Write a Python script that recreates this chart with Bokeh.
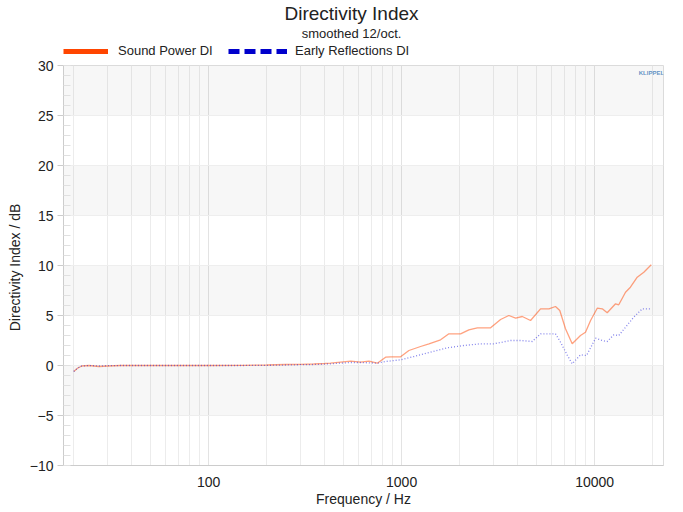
from bokeh.plotting import figure
from bokeh.layouts import column
from bokeh.models import (Label, Legend, LegendItem, FixedTicker,
                          ColumnDataSource, Range1d)
from bokeh.embed import file_html
from bokeh.resources import INLINE

# ---- data ----
sp_freq = [20, 21, 22, 24, 27, 30, 35, 50, 100, 150, 200, 250, 300, 350, 400, 428,
           483, 545, 613, 677, 748, 826, 877, 988, 1091, 1254, 1386, 1592, 1758, 2021,
           2231, 2467, 2891, 3257, 3593, 3898, 4218, 4656, 5246, 5800, 6270, 6600,
           7066, 7654, 8450, 8970, 9530, 10320, 10960, 11620, 12840, 13340, 14460,
           15330, 16630, 17990, 19660]
sp_di = [-0.6, -0.25, -0.05, 0.0, -0.1, -0.05, 0.0, 0.0, 0.0, 0.02, 0.05, 0.1, 0.12,
         0.15, 0.2, 0.23, 0.33, 0.43, 0.33, 0.43, 0.23, 0.83, 0.87, 0.87, 1.5, 1.9, 2.17,
         2.57, 3.17, 3.17, 3.57, 3.77, 3.77, 4.6, 5.0, 4.73, 4.9, 4.5, 5.67, 5.67, 5.9,
         5.5, 3.67, 2.17, 3.0, 3.33, 4.5, 5.73, 5.67, 5.27, 6.17, 6.07, 7.33, 7.83,
         8.83, 9.33, 10.07]

er_freq = [20, 21, 22, 24, 27, 30, 35, 50, 100, 150, 200, 250, 300, 350, 400, 428,
           545, 613, 748, 826, 988, 1159, 1413, 1724, 2103, 2565, 3010, 3257, 3669,
           4140, 4750, 5246, 6270, 6660, 7230, 7654, 8450, 9080, 10120, 10960, 11620,
           12580, 13340, 14460, 15950, 17650, 19660]
er_di = [-0.6, -0.25, -0.05, 0.0, -0.05, -0.02, 0.0, 0.0, 0.0, 0.0, 0.02, 0.05, 0.08,
         0.1, 0.14, 0.17, 0.3, 0.3, 0.23, 0.4, 0.57, 0.9, 1.33, 1.77, 2.0, 2.17, 2.17,
         2.3, 2.5, 2.5, 2.4, 3.17, 3.17, 2.33, 1.0, 0.17, 1.07, 1.0, 2.73, 2.5, 2.4,
         3.07, 3.0, 3.83, 4.83, 5.67, 5.67]

series_names = ["Sound Power DI", "Early Reflections DI"]
title_text = "Directivity Index"
subtitle_text = "smoothed 12/oct."
logo_text = "KLIPPEL"

y_ticks = [-10, -5, 0, 5, 10, 15, 20, 25, 30]
x_label_ticks = [100, 1000, 10000]
x_minor_ticks = [20, 30, 40, 50, 60, 70, 80, 90, 200, 300, 400, 500, 600, 700, 800,
                 900, 2000, 3000, 4000, 5000, 6000, 7000, 8000, 9000, 20000]

FONT = "Liberation Sans"
TXT = "#222222"
NAN = float("nan")

# ---------------- header (titles + legend) ----------------
hdr = figure(frame_width=600, frame_height=58, x_range=Range1d(0, 600),
             y_range=Range1d(0, 58), output_backend="svg", toolbar_location=None,
             min_border_left=63, min_border_right=12, min_border_top=0,
             min_border_bottom=0)
hdr.axis.visible = False
hdr.grid.visible = False
hdr.outline_line_color = None

hdr.add_layout(Label(x=288, y=45, text=title_text, text_align="center",
                     text_baseline="middle", text_font=FONT, text_font_size="19px",
                     text_color=TXT))
hdr.add_layout(Label(x=288, y=25, text=subtitle_text, text_align="center",
                     text_baseline="middle", text_font=FONT, text_font_size="13px",
                     text_color=TXT))

leg_sp = hdr.line([NAN], [NAN], line_color="#ff4500", line_width=5)
leg_er = hdr.line([NAN], [NAN], line_color="#0000cc", line_width=5, line_dash="11 5")
leg_common = dict(orientation="horizontal", glyph_height=12, label_height=14,
                  label_text_font=FONT, label_text_font_size="13px",
                  label_text_color=TXT, label_text_baseline="middle",
                  border_line_color=None, background_fill_alpha=0,
                  padding=0, margin=0, spacing=0)
legend1 = Legend(items=[LegendItem(label=series_names[0], renderers=[leg_sp])],
                 location=(0, 0), glyph_width=45, label_standoff=10, **leg_common)
legend2 = Legend(items=[LegendItem(label=series_names[1], renderers=[leg_er])],
                 location=(165, 0), glyph_width=59, label_standoff=8, **leg_common)
hdr.add_layout(legend1, "center")
hdr.add_layout(legend2, "center")

# ---------------- main chart ----------------
p = figure(frame_width=600, frame_height=400, x_axis_type="log",
           x_range=Range1d(17.7, 22750), y_range=Range1d(-10, 30),
           output_backend="svg", toolbar_location=None,
           min_border_left=63, min_border_right=12, min_border_top=7,
           min_border_bottom=30)
p.outline_line_color = "#dddddd"

# grids (an extra tick below the range shifts the band phase)
p.xgrid.ticker = FixedTicker(ticks=x_label_ticks, minor_ticks=x_minor_ticks)
p.xgrid.grid_line_color = "#e3e3e3"
p.xgrid.minor_grid_line_color = "#ececec"
p.ygrid.ticker = FixedTicker(ticks=[y_ticks[0] - 5] + y_ticks)
p.ygrid.grid_line_color = "#eeeeee"
p.ygrid.band_fill_color = "#000000"
p.ygrid.band_fill_alpha = 0.03

# axes
p.xaxis.ticker = FixedTicker(ticks=x_label_ticks)
p.xaxis.major_label_overrides = {100: "100", 1000: "1000", 10000: "10000"}
p.xaxis.major_tick_out = 0
p.xaxis.major_tick_in = 0
p.xaxis.minor_tick_out = 0
p.xaxis.axis_line_color = "#cccccc"
p.xaxis.axis_label = "Frequency / Hz"
p.xaxis.major_label_standoff = 11

p.yaxis.ticker = FixedTicker(ticks=y_ticks, minor_ticks=list(range(-10, 31)))
p.yaxis.major_tick_out = 6
p.yaxis.major_tick_in = 0
p.yaxis.minor_tick_out = 0
p.yaxis.minor_tick_in = 7
p.yaxis.major_tick_line_color = "#cccccc"
p.yaxis.minor_tick_line_color = "#e0e0e0"
p.yaxis.axis_line_color = "#cccccc"
p.yaxis.axis_label = "Directivity Index  / dB"
p.yaxis.major_label_standoff = 4

for ax in (p.xaxis, p.yaxis):
    ax.major_label_text_font = FONT
    ax.major_label_text_font_size = "14px"
    ax.major_label_text_color = TXT
    ax.axis_label_text_font = FONT
    ax.axis_label_text_font_size = "14px"
    ax.axis_label_text_font_style = "normal"
    ax.axis_label_text_color = TXT
p.xaxis.axis_label_standoff = 1
p.yaxis.axis_label_standoff = 4

# data lines
sp_src = ColumnDataSource(dict(f=sp_freq, d=sp_di))
er_src = ColumnDataSource(dict(f=er_freq, d=er_di))
p.line("f", "d", source=sp_src, line_color="#ff4500", line_alpha=0.5, line_width=1.3)
p.line("f", "d", source=er_src, line_color="#2020dd", line_alpha=0.55, line_width=1.3,
       line_dash="1 2")

# small logo text in the top-right corner
p.add_layout(Label(x=19700, y=29.3, text=logo_text, text_align="center",
                   text_baseline="middle", text_font=FONT, text_font_size="6px",
                   text_font_style="bold", text_color="#3a78b8", text_alpha=0.8))

layout = column(hdr, p, spacing=0)
open("out.html", "w").write(file_html(layout, INLINE))
